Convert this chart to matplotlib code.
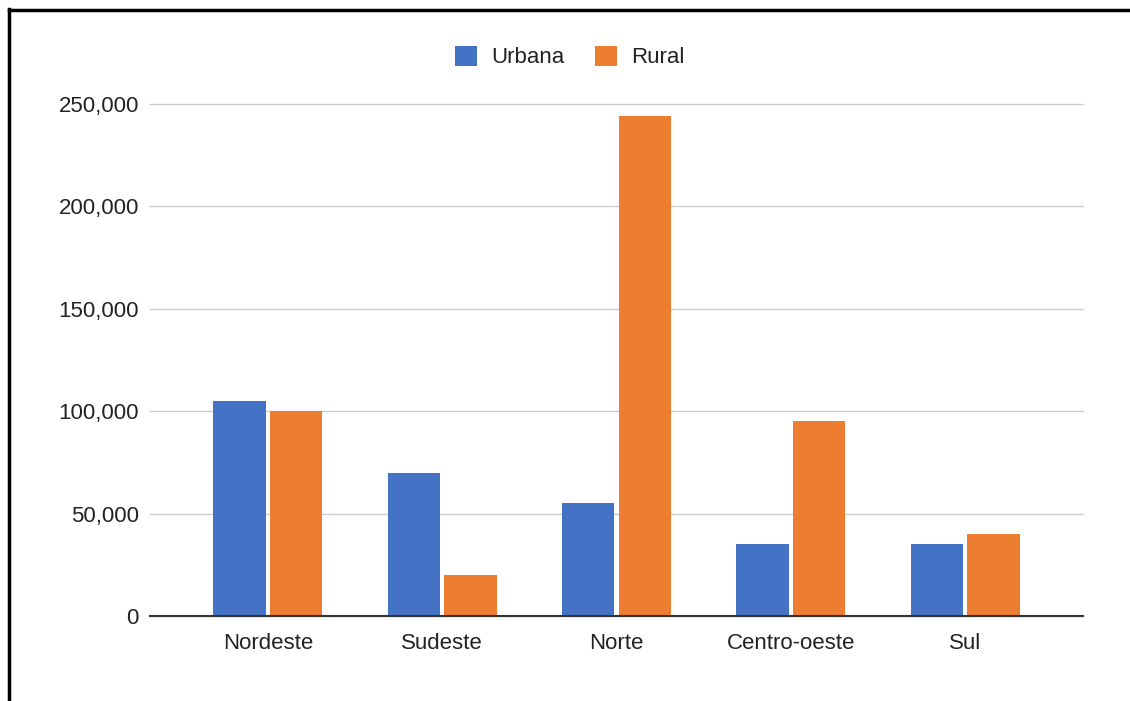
import numpy as np
import matplotlib
matplotlib.use("Agg")
import matplotlib.pyplot as plt
from matplotlib.patches import Patch
from matplotlib.lines import Line2D
from matplotlib.ticker import FuncFormatter

plt.rcParams['font.family'] = ['Liberation Sans', 'DejaVu Sans']

regioes = ["Nordeste", "Sudeste", "Norte", "Centro-oeste", "Sul"]
urbana = [105000, 70000, 55000, 35000, 35000]
rural = [100000, 20000, 244000, 95000, 40000]
series = ["Urbana", "Rural"]
cores = ["#4472c4", "#ed7d31"]

fig = plt.figure(figsize=(11.3, 7.01), dpi=100)
ax = fig.add_axes([150/1130, 1 - 616/701, (1083 - 150)/1130, (616 - 104)/701])

x = np.arange(len(regioes))
w = 0.30
gap = 0.012
ax.bar(x - w/2 - gap, urbana, w, color=cores[0], zorder=3)
ax.bar(x + w/2 + gap, rural, w, color=cores[1], zorder=3)

ax.set_xlim(-0.676, 4.676)
ax.set_ylim(0, 250000)
ax.set_yticks(np.arange(0, 250001, 50000))
ax.yaxis.set_major_formatter(FuncFormatter(lambda v, p: f"{int(v):,}"))
ax.set_xticks(x)
ax.set_xticklabels(regioes)
ax.grid(axis="y", color="#cccccc", linewidth=1, zorder=0)
for gl in ax.yaxis.get_gridlines():
    gl.set_clip_on(False)

for s in ["top", "right", "left"]:
    ax.spines[s].set_visible(False)
ax.spines["bottom"].set_color("#333333")
ax.spines["bottom"].set_linewidth(1.5)
ax.spines["bottom"].set_zorder(4)
ax.tick_params(axis="both", length=0, labelsize=16, colors="#222222")
ax.tick_params(axis="y", pad=8)
ax.tick_params(axis="x", pad=12)

handles = [Patch(facecolor=c, edgecolor="none") for c in cores]
fig.legend(handles, series, loc="center", bbox_to_anchor=(0.504, 1 - 57/701), ncol=2,
           frameon=False, fontsize=16, handlelength=1.0, handleheight=1.0,
           columnspacing=1.36, handletextpad=0.64, labelcolor="#222222")

# borda preta (esquerda e topo)
fig.add_artist(Line2D([8.5/1130, 8.5/1130], [0, 1 - 8.5/701], color="black", linewidth=2.5, transform=fig.transFigure))
fig.add_artist(Line2D([8.5/1130, 1], [1 - 9.5/701, 1 - 9.5/701], color="black", linewidth=2.5, transform=fig.transFigure))

fig.savefig("out.png", dpi=100)
